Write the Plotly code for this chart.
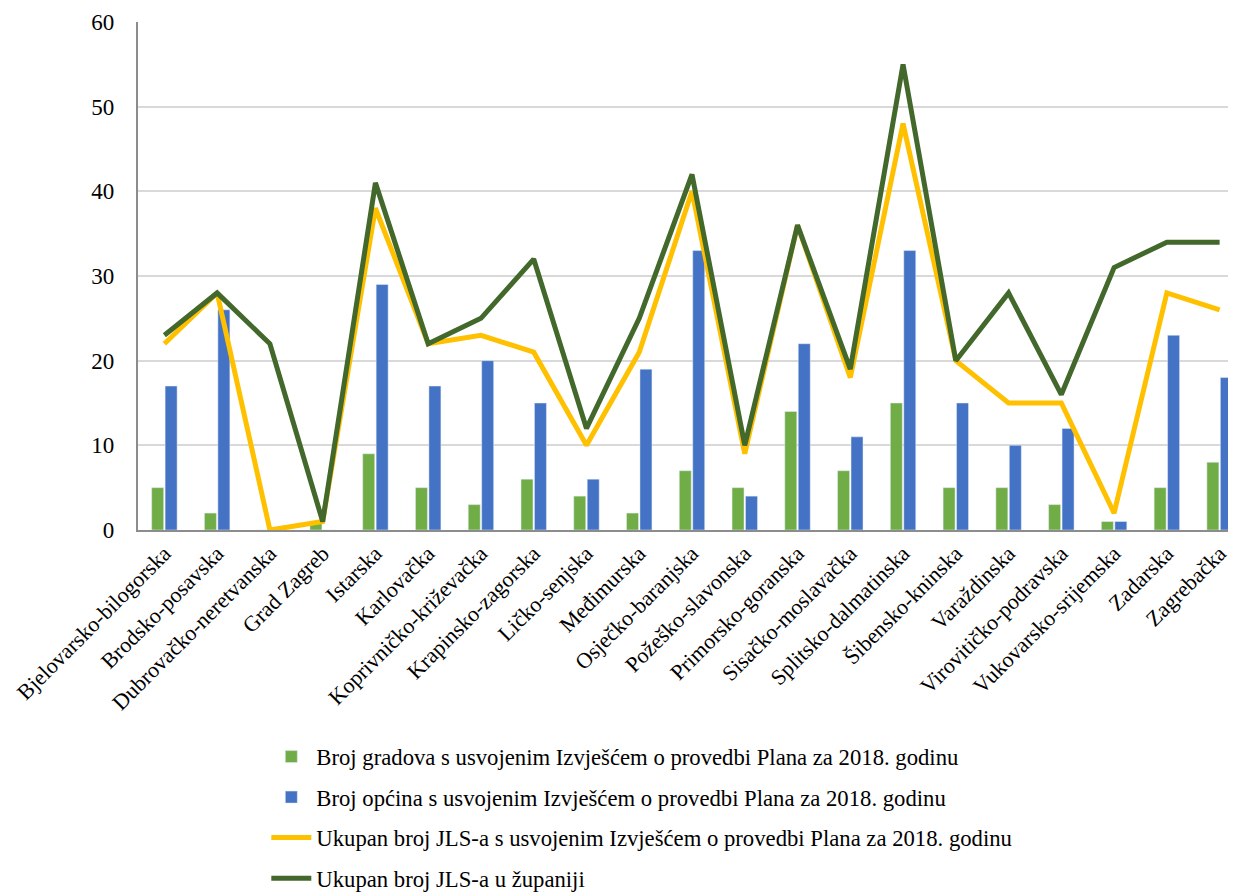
import plotly.graph_objects as go

zupanije = ["Bjelovarsko-bilogorska", "Brodsko-posavska", "Dubrovačko-neretvanska", "Grad Zagreb",
            "Istarska", "Karlovačka", "Koprivničko-križevačka", "Krapinsko-zagorska", "Ličko-senjska",
            "Međimurska", "Osječko-baranjska", "Požeško-slavonska", "Primorsko-goranska",
            "Sisačko-moslavačka", "Splitsko-dalmatinska", "Šibensko-kninska", "Varaždinska",
            "Virovitičko-podravska", "Vukovarsko-srijemska", "Zadarska", "Zagrebačka"]
gradovi = [5, 2, 0, 1, 9, 5, 3, 6, 4, 2, 7, 5, 14, 7, 15, 5, 5, 3, 1, 5, 8]
opcine = [17, 26, 0, 0, 29, 17, 20, 15, 6, 19, 33, 4, 22, 11, 33, 15, 10, 12, 1, 23, 18]
ukupno_usvojeno = [22, 28, 0, 1, 38, 22, 23, 21, 10, 21, 40, 9, 36, 18, 48, 20, 15, 15, 2, 28, 26]
ukupno_jls = [23, 28, 22, 1, 41, 22, 25, 32, 12, 25, 42, 10, 36, 19, 55, 20, 28, 16, 31, 34, 34]

names = ["Broj gradova s usvojenim Izvješćem o provedbi Plana za 2018. godinu",
         "Broj općina s usvojenim Izvješćem o provedbi Plana za 2018. godinu",
         "Ukupan broj JLS-a s usvojenim Izvješćem o provedbi Plana za 2018. godinu",
         "Ukupan broj JLS-a u županiji"]

FONT = "Times New Roman, Liberation Serif, serif"

fig = go.Figure()
fig.add_trace(go.Bar(x=zupanije, y=gradovi, name=names[0], marker_color="#70AD47", legendgroup="a"))
fig.add_trace(go.Bar(x=zupanije, y=opcine, name=names[1], marker_color="#4472C4", legendgroup="b"))
fig.add_trace(go.Scatter(x=zupanije, y=ukupno_usvojeno, name=names[2], mode="lines",
                         line=dict(color="#FFC000", width=5), legendgroup="c"))
fig.add_trace(go.Scatter(x=zupanije, y=ukupno_jls, name=names[3], mode="lines",
                         line=dict(color="#43682B", width=5), legendgroup="d"))

fig.update_layout(
    width=1238, height=887,
    margin=dict(l=130, r=0, t=14, b=365),
    paper_bgcolor="white", plot_bgcolor="white",
    font=dict(family=FONT, size=22, color="black"),
    barmode="group", bargap=0.49, bargroupgap=0.11,
    showlegend=True,
    legend=dict(orientation="v", x=0.1158, xanchor="left", yref="container", y=0.18, yanchor="top",
                font=dict(size=22.7, family=FONT), tracegroupgap=8, itemwidth=40,
                bgcolor="rgba(0,0,0,0)"),
    xaxis=dict(tickangle=-45, showline=True, linecolor="#8c8c8c", linewidth=2,
               showgrid=False, ticks="", tickfont=dict(size=22, family=FONT), automargin=False),
    yaxis=dict(range=[0, 60], dtick=10, showline=True, linecolor="#8c8c8c", linewidth=2,
               showgrid=True, gridcolor="#d9d9d9", gridwidth=1.5, ticks="",
               tickfont=dict(size=23, family=FONT), zeroline=False, ticksuffix="   ",
               automargin=False),
)

fig.write_html("out.html")
